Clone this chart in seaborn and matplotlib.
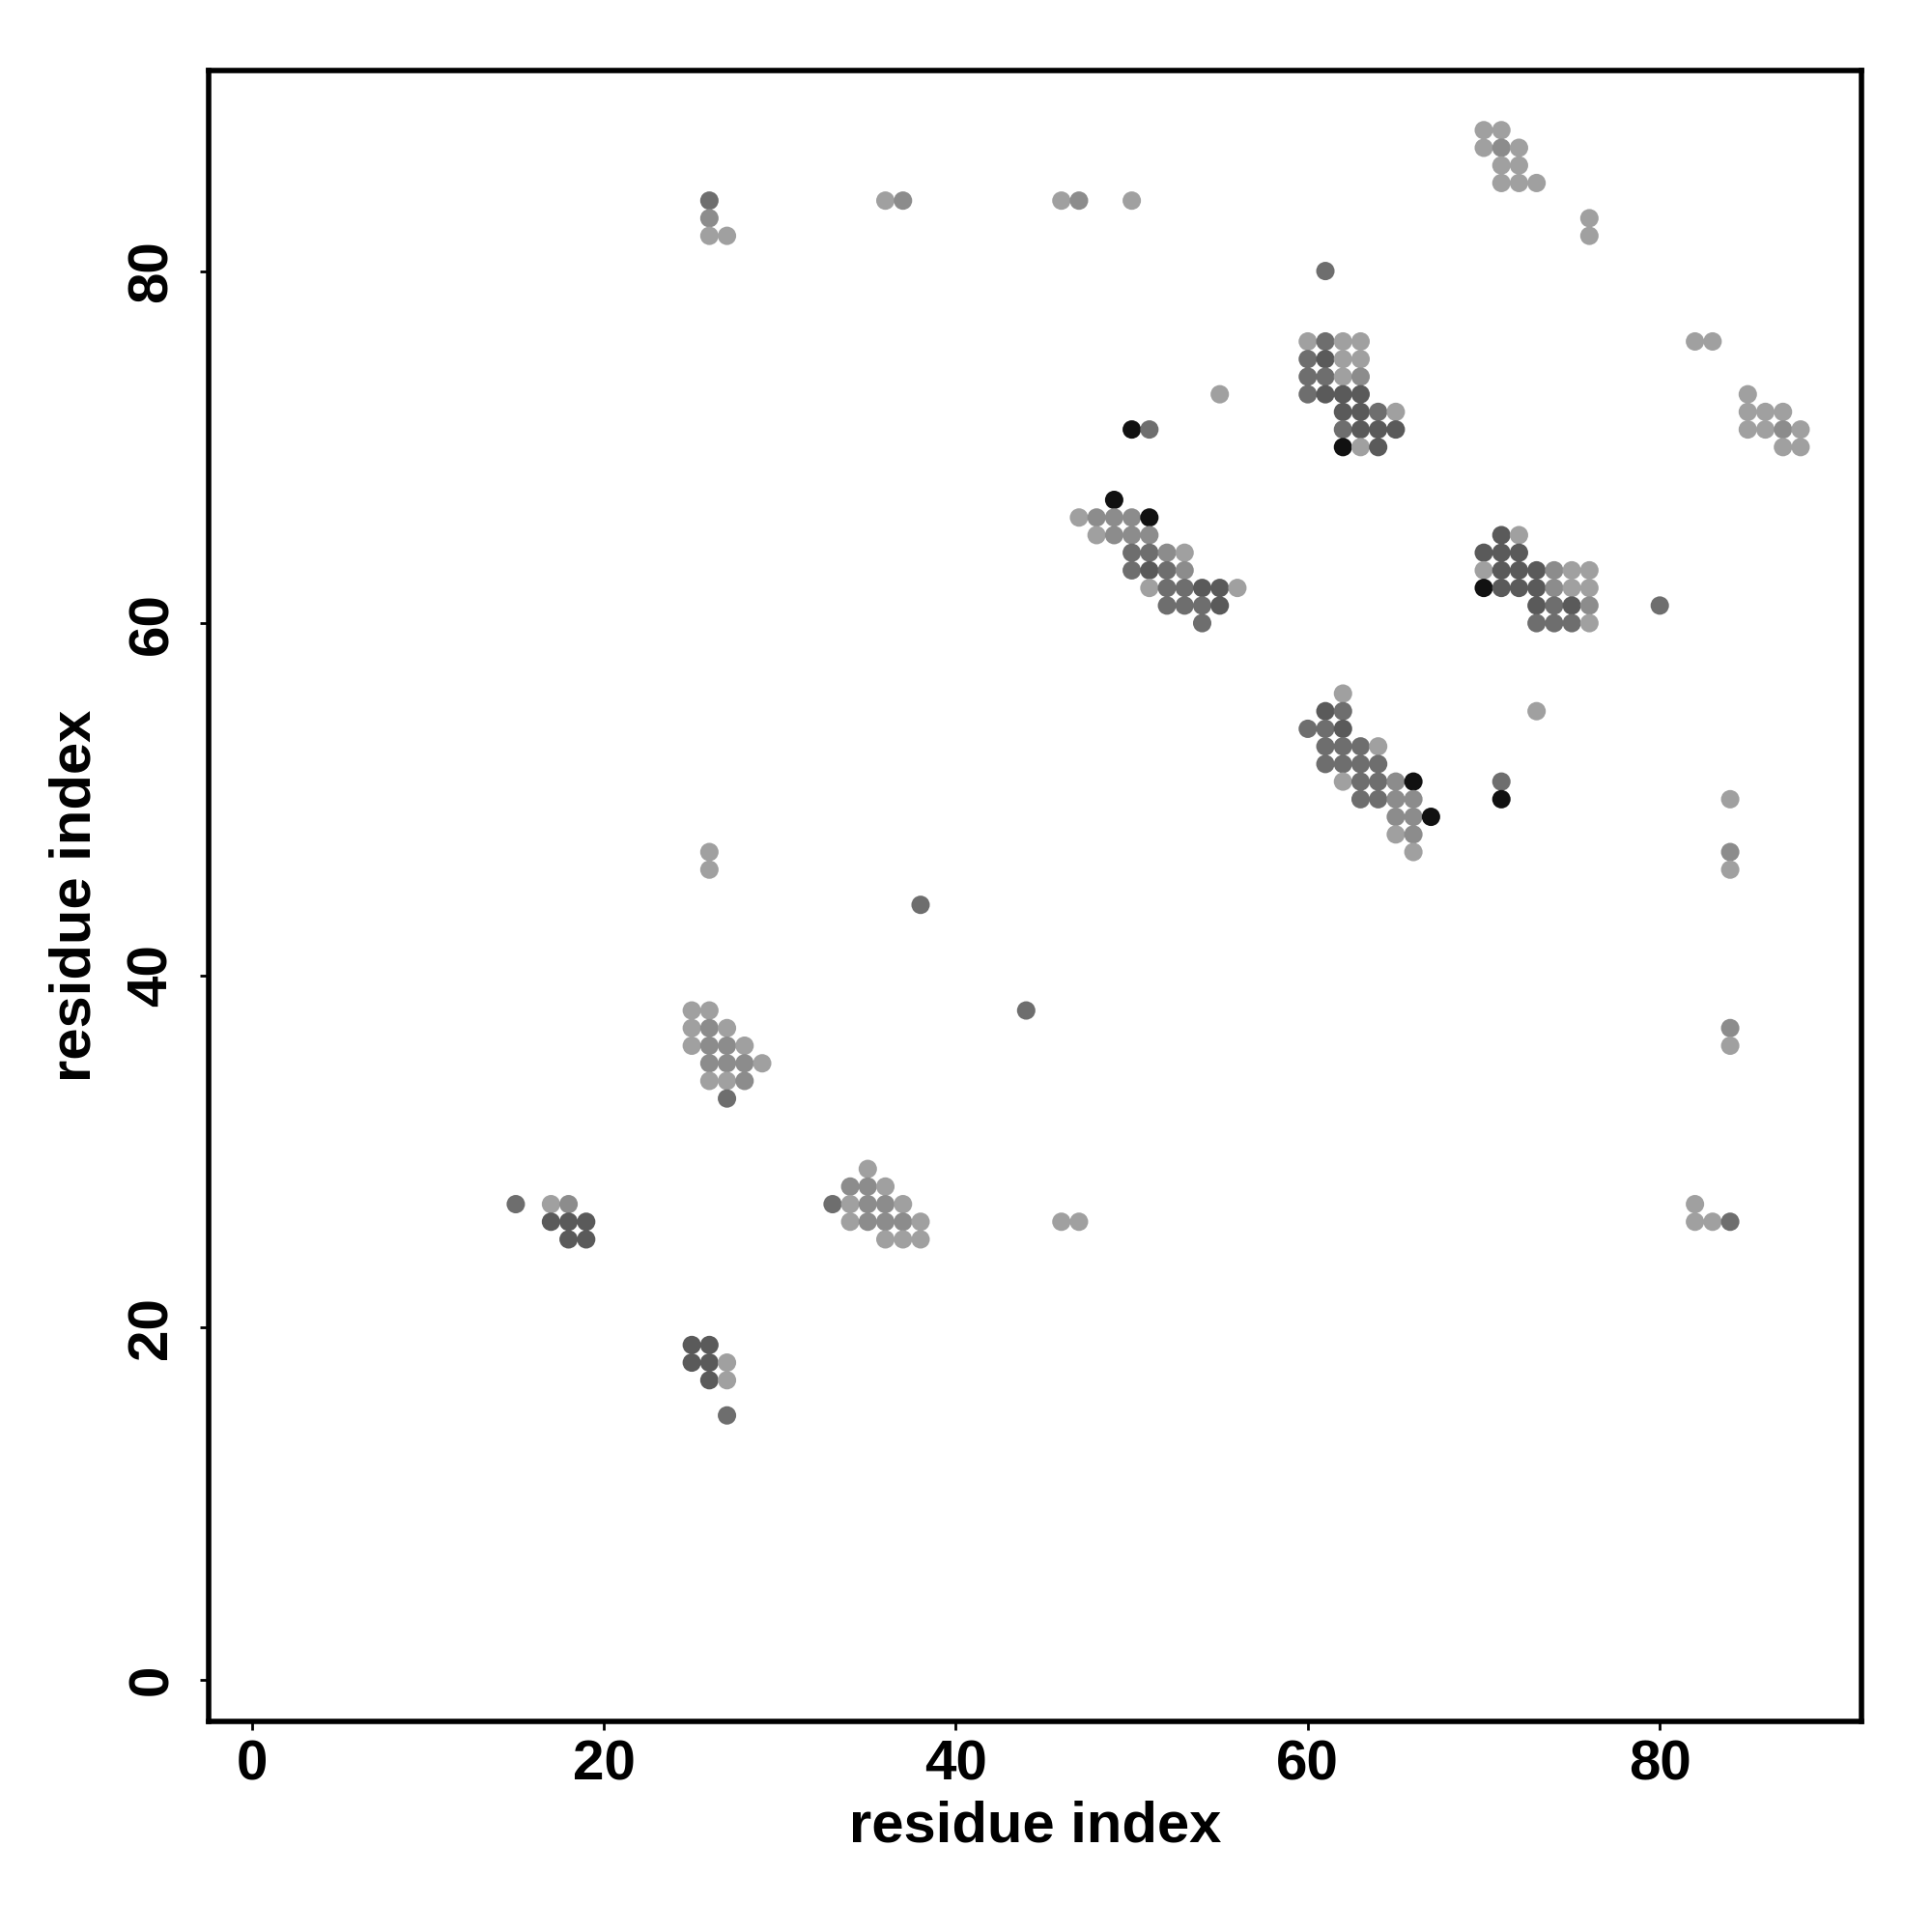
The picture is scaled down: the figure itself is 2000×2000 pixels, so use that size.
import matplotlib
matplotlib.use("Agg")
import matplotlib.pyplot as plt
import seaborn as sns
import pandas as pd

# contact map data: residue i (x), residue j (y), contact level (1 light .. 5 black)
res_x = [
    26, 26, 26, 27, 36, 37, 46, 47, 50,
    70, 71, 70, 71, 72, 71, 72, 71, 72, 73, 76, 76,
    61,
    60, 61, 62, 63, 60, 61, 62, 63, 60, 61, 62, 63, 60, 61, 62, 63,
    62, 63, 64, 65, 62, 63, 64, 65, 62, 63, 64,
    82, 83, 85, 85, 86, 87, 85, 86, 87, 88, 87, 88,
    55, 50, 51,
    49, 47, 48, 49, 50, 51, 48, 49, 50, 51, 50, 51, 52, 53, 50, 51, 52, 53,
    51, 52, 53, 54, 55, 56, 52, 53, 54, 55, 54,
    71, 72, 70, 71, 72, 70, 71, 72, 73, 74, 75, 76, 70, 71, 72, 73, 74, 75, 76,
    73, 74, 75, 76, 73, 74, 75, 76, 80,
    62, 61, 62, 60, 61, 62, 61, 62, 63, 64, 61, 62, 63, 64,
    62, 63, 64, 65, 66, 63, 64, 65, 66, 65, 66, 67, 65, 66, 66,
    73, 71, 71, 84, 84, 84, 26, 26, 38, 44,
    25, 26, 25, 26, 27, 25, 26, 27, 28, 26, 27, 28, 29, 26, 27, 28, 27,
    84, 84,
    15, 17, 18, 17, 18, 19, 18, 19,
    35, 34, 35, 36, 33, 34, 35, 36, 37, 34, 35, 36, 37, 38, 36, 37, 38,
    46, 47, 82, 82, 83, 84,
    25, 26, 25, 26, 27, 26, 27, 27,
]
res_y = [
    84, 83, 82, 82, 84, 84, 84, 84, 84,
    88, 88, 87, 87, 87, 86, 86, 85, 85, 85, 83, 82,
    80,
    76, 76, 76, 76, 75, 75, 75, 75, 74, 74, 74, 74, 73, 73, 73, 73,
    72, 72, 72, 72, 71, 71, 71, 71, 70, 70, 70,
    76, 76, 73, 72, 72, 72, 71, 71, 71, 71, 70, 70,
    73, 71, 71,
    67, 66, 66, 66, 66, 66, 65, 65, 65, 65, 64, 64, 64, 64, 63, 63, 63, 63,
    62, 62, 62, 62, 62, 62, 61, 61, 61, 61, 60,
    65, 65, 64, 64, 64, 63, 63, 63, 63, 63, 63, 63, 62, 62, 62, 62, 62, 62, 62,
    61, 61, 61, 61, 60, 60, 60, 60, 61,
    56, 55, 55, 54, 54, 54, 53, 53, 53, 53, 52, 52, 52, 52,
    51, 51, 51, 51, 51, 50, 50, 50, 50, 49, 49, 49, 48, 48, 47,
    55, 51, 50, 50, 47, 46, 47, 46, 44, 38,
    38, 38, 37, 37, 37, 36, 36, 36, 36, 35, 35, 35, 35, 34, 34, 34, 33,
    37, 36,
    27, 27, 27, 26, 26, 26, 25, 25,
    29, 28, 28, 28, 27, 27, 27, 27, 27, 26, 26, 26, 26, 26, 25, 25, 25,
    26, 26, 27, 26, 26, 26,
    19, 19, 18, 18, 18, 17, 17, 15,
]
level = [
    3, 2, 1, 1, 1, 2, 1, 2, 1,
    1, 1, 1, 2, 1, 1, 1, 1, 1, 1, 1, 1,
    3,
    1, 3, 1, 1, 3, 4, 1, 1, 3, 3, 1, 2, 3, 4, 4, 4,
    4, 4, 3, 1, 3, 4, 4, 4, 5, 1, 4,
    1, 1, 1, 1, 1, 1, 1, 1, 2, 1, 1, 1,
    1, 5, 3,
    5, 1, 2, 2, 2, 5, 1, 2, 2, 2, 3, 3, 2, 1, 3, 4, 3, 2,
    1, 3, 3, 4, 4, 1, 3, 3, 3, 4, 3,
    4, 1, 4, 4, 4, 1, 4, 4, 4, 2, 1, 1, 5, 4, 4, 4, 2, 1, 1,
    4, 3, 4, 2, 3, 3, 3, 1, 3,
    1, 4, 3, 3, 3, 4, 3, 3, 3, 1, 3, 3, 3, 3,
    1, 3, 3, 2, 5, 3, 3, 2, 2, 2, 2, 5, 1, 2, 1,
    1, 3, 5, 1, 2, 1, 1, 1, 3, 3,
    1, 1, 1, 2, 1, 1, 2, 2, 1, 2, 2, 2, 1, 1, 1, 2, 3,
    2, 1,
    3, 1, 2, 4, 4, 4, 4, 4,
    1, 2, 2, 1, 3, 1, 2, 2, 1, 1, 2, 2, 2, 1, 1, 1, 1,
    1, 1, 1, 1, 1, 3,
    4, 4, 4, 4, 1, 4, 1, 3,
]

ticks = [0, 20, 40, 60, 80]
gray_of_level = {1: "#a0a0a0", 2: "#8c8c8c", 3: "#6e6e6e", 4: "#5a5a5a", 5: "#111111"}

df = pd.DataFrame({"i": res_x, "j": res_y, "level": level})

sns.set_style("white")
plt.rcParams["font.family"] = ["Liberation Sans", "DejaVu Sans"]
plt.rcParams["font.weight"] = "bold"
plt.rcParams["text.color"] = "black"
plt.rcParams["axes.labelcolor"] = "black"
plt.rcParams["xtick.color"] = "black"
plt.rcParams["ytick.color"] = "black"

fig = plt.figure(figsize=(10, 10), dpi=200)
ax = fig.add_axes([0.108, 0.109, 0.8555, 0.8546])

sns.scatterplot(data=df, x="i", y="j", hue="level", palette=gray_of_level,
                s=47, linewidth=0, legend=False, ax=ax, zorder=3)

ax.set_xlim(-2.45, 91.46)
ax.set_ylim(-2.38, 91.4)
ax.set_xticks(ticks)
ax.set_yticks(ticks)
ax.set_xticklabels([str(t) for t in ticks], fontsize=21, fontweight="bold", color="black")
ax.set_yticklabels([str(t) for t in ticks], fontsize=21, fontweight="bold", color="black",
                   rotation=90, va="center")
ax.tick_params(axis="both", which="both", direction="out", length=3.2, width=1.0,
               color="black", bottom=True, left=True)
ax.tick_params(axis="x", pad=3.5)
ax.tick_params(axis="y", pad=8)

for sp in ax.spines.values():
    sp.set_visible(True)
    sp.set_linewidth(2.0)
    sp.set_color("black")

ax.set_xlabel("residue index", fontsize=21.5, fontweight="bold", va="center", color="black")
ax.set_ylabel("residue index", fontsize=21.5, fontweight="bold", va="center", color="black")
ax.xaxis.set_label_coords(0.5, -0.064)
ax.yaxis.set_label_coords(-0.0805, 0.5)
ax.grid(False)

fig.savefig("out.png", dpi=200, facecolor="white")
